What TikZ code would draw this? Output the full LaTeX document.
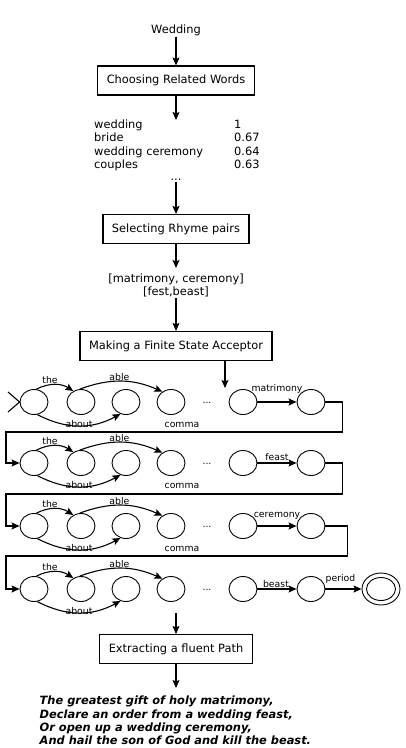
\documentclass[tikz,border=0pt]{standalone}
\usepackage{fontspec}
\setmainfont{DejaVu Sans}
\usetikzlibrary{arrows.meta,positioning,shapes.geometric}
\tikzset{
  bx/.style={draw,line width=1.1pt,inner xsep=9pt,minimum height=29pt,
    font=\fontsize{11.4}{13.4}\selectfont},
  txt/.style={font=\fontsize{11.4}{13.4}\selectfont,align=center,inner sep=1pt},
  stt/.style={draw,ellipse,line width=0.9pt,minimum width=28pt,minimum height=25pt,
    inner sep=0pt},
  fl/.style={-{Stealth[length=8pt,width=7pt,inset=1.5pt]},line width=1.1pt},
  ln/.style={line width=1.1pt},
  lbl/.style={font=\fontsize{9.3}{11}\selectfont,inner sep=0.5pt},
}

\begin{document}
\begin{tikzpicture}[x=1pt,y=-1pt]
  \useasboundingbox (0,0) rectangle (406,748);
  % pipeline
  \node[txt] (wed) at (176,30) {Wedding};
  \node[bx] (crw) at (176,80.5) {Choosing Related Words};
  \node[txt,anchor=north west,align=left,inner sep=0pt] (lst) at (94,119)
    {\begin{tabular}{@{}p{140pt}@{}l@{}}
      wedding & 1\\ bride & 0.67\\ wedding ceremony & 0.64\\ couples & 0.63
    \end{tabular}};
  \node[txt] (dts) at (176,180) {...};
  \node[bx] (srp) at (176,229) {Selecting Rhyme pairs};
  \node[txt] (prs) at (176,285.5) {{[matrimony, ceremony]}\\{[fest,beast]}};
  \node[bx] (mfs) at (176,346) {Making a Finite State Acceptor};
  \coordinate (fsa) at (225,388);
  \draw[fl] (wed) -- (crw);
  \draw[fl] (crw) -- (crw.south |- 0,120);
  \draw[fl] (dts) -- (srp);
  \draw[fl] (srp) -- (srp.south |- 0,268);
  \draw[fl] (prs) -- (mfs);
  \draw[fl] (mfs.south -| fsa) -- (fsa);
  % acceptor rows
  \foreach \r/\y in {1/402,2/463,3/526,4/589}{
    \foreach \i/\x in {1/34,2/81,3/126,4/171,5/243,6/311}
      \node[stt] (s\r-\i) at (\x,\y) {};
    \node[lbl] (d\r) at (207,\y+1) {...};
    \draw[fl] (s\r-1.80) to[bend left=30] node[lbl,above,xshift=-5pt]{the} (s\r-2.125);
    \draw[fl] (s\r-2.95) to[bend left=22] node[lbl,above,xshift=-2pt]{able} (s\r-4.130);
    \draw[fl] (s\r-1.-75) to[bend right=28] node[lbl,above,inner sep=0pt,yshift=-2.5pt]{about} (s\r-3.-115);
  }
  \foreach \r/\y in {1/402,2/463,3/526}
    \node[lbl] (c\r) at (182,\y+23) {comma};
  \draw[fl] (s1-5) -- node[lbl,above=8pt]{matrimony} (s1-6);
  \draw[fl] (s2-5) -- node[lbl,above=1pt]{feast} (s2-6);
  \draw[fl] (s3-5) -- node[lbl,above=6pt]{ceremony} (s3-6);
  \draw[fl] (s4-5) -- node[lbl,above=0pt,xshift=-1pt]{beast} (s4-6);
  \node[stt,minimum width=38pt,minimum height=32pt] (fin) at (381,589) {};
  \node[stt,minimum width=29pt,minimum height=23pt] (fin2) at (fin) {};
  \draw[fl] (s4-6) -- node[lbl,above=5pt,xshift=-3pt]{period} (fin);
  \draw[ln] (8,392) -- (s1-1.west) -- (8,412);
  % wrap-around links
  \draw[fl] (s1-6.east) -- ++(17,0) |- (6,432) |- (s2-1.west);
  \draw[fl] (s2-6.east) -- ++(17,0) |- (6,494) |- (s3-1.west);
  \draw[fl] (s3-6.east) -- ++(22,0) |- (6,556) |- (s4-1.west);
  % output
  \coordinate (out) at (176,613);
  \node[bx] (efp) at (176,649) {Extracting a fluent Path};
  \draw[fl] (out) -- (efp);
  \draw[fl] (efp) -- (efp.south |- 0,688);
  \node[txt,anchor=west,align=left,font=\fontsize{11.4}{13.3}\selectfont\bfseries\itshape]
    (poem) at (38.5,720.5) {The greatest gift of holy matrimony,\\
    Declare an order from a wedding feast,\\
    Or open up a wedding ceremony,\\
    And hail the son of God and kill the beast.};
\end{tikzpicture}
\end{document}
